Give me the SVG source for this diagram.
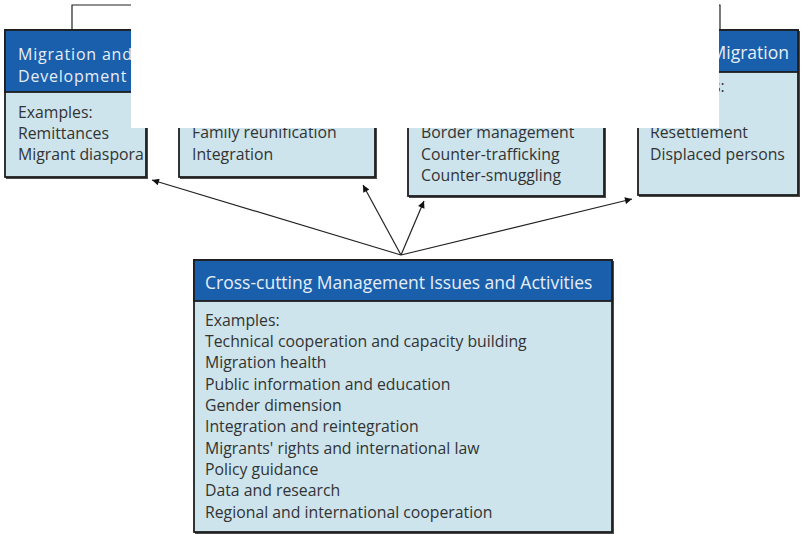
<svg xmlns="http://www.w3.org/2000/svg" width="801" height="534" viewBox="0 0 801 534">
  <defs>
    <marker id="arrow" viewBox="0 0 10 10" refX="10" refY="5" markerWidth="9" markerHeight="7" markerUnits="userSpaceOnUse" orient="auto">
      <path d="M0,0 L10,5 L0,10 z" fill="#111"/>
    </marker>
    <style>
      .shadow { fill: #4a4a4a; }
      .body { fill: #cde4ec; stroke: #1e1e1e; stroke-width: 1.8; }
      .head { fill: #1a5fab; stroke: #1e1e1e; stroke-width: 1.8; }
      .htxt { font-family: "Open Sans", "Noto Sans", sans-serif; font-size: 17.5px; fill: #e6eef7; }
      .htxt2 { font-family: "Open Sans", "Noto Sans", sans-serif; font-size: 16px; letter-spacing: 0.8px; fill: #e6eef7; }
      .btxt { font-family: "Open Sans", "Noto Sans", sans-serif; font-size: 15.8px; fill: #333; }
      .link { fill: none; stroke: #222; stroke-width: 1.2; }
      .arrow { fill: none; stroke: #222; stroke-width: 1.2; marker-end: url(#arrow); }
    </style>
  </defs>

  <g id="connectors">
    <polyline class="link" points="72,30 72,5 720,5 720,30"/>
    <line class="arrow" x1="401" y1="255" x2="152" y2="180"/>
    <line class="arrow" x1="401" y1="255" x2="363" y2="185"/>
    <line class="arrow" x1="401" y1="255" x2="424" y2="201"/>
    <line class="arrow" x1="401" y1="255" x2="632" y2="199"/>
  </g>

  <g id="migration-development">
    <rect class="shadow" x="6" y="31" width="142" height="148"/>
    <rect class="body" x="5" y="30" width="141" height="147"/>
    <rect class="head" x="5" y="30" width="141" height="62"/>
    <text class="htxt2" x="18" y="59.5">Migration and</text>
    <text class="htxt2" x="18" y="81.5">Development</text>
    <text class="btxt" x="18" y="118">Examples:</text>
    <text class="btxt" x="18" y="139">Remittances</text>
    <text class="btxt" x="18" y="160">Migrant diaspora</text>
  </g>

  <g id="facilitating">
    <rect class="shadow" x="180" y="31" width="197" height="148"/>
    <rect class="body" x="179" y="30" width="196" height="147"/>
    <text class="btxt" x="192" y="138">Family reunification</text>
    <text class="btxt" x="192" y="160">Integration</text>
  </g>

  <g id="regulating">
    <rect class="shadow" x="409" y="31" width="197" height="167"/>
    <rect class="body" x="408" y="30" width="196" height="166"/>
    <text class="btxt" x="421" y="138">Border management</text>
    <text class="btxt" x="421" y="160">Counter-trafficking</text>
    <text class="btxt" x="421" y="181">Counter-smuggling</text>
  </g>

  <g id="forced-migration">
    <rect class="shadow" x="639" y="31" width="161" height="166"/>
    <rect class="body" x="638" y="30" width="160" height="165"/>
    <rect class="head" x="638" y="30" width="160" height="42"/>
    <text class="htxt" x="789" y="59" text-anchor="end">Migration</text>
    <text class="btxt" x="650" y="92">Examples:</text>
    <text class="btxt" x="650" y="138">Resettlement</text>
    <text class="btxt" x="650" y="160">Displaced persons</text>
  </g>

  <!-- blank panel over the upper middle -->
  <rect x="131" y="0" width="588" height="128" fill="#fff"/>

  <g id="cross-cutting">
    <rect class="shadow" x="195" y="261" width="419" height="273"/>
    <rect class="body" x="194" y="260" width="418" height="272"/>
    <rect class="head" x="194" y="260" width="418" height="41"/>
    <text class="htxt" x="205" y="289">Cross-cutting Management Issues and Activities</text>
    <text class="btxt" x="205" y="326">Examples:</text>
    <text class="btxt" x="205" y="347">Technical cooperation and capacity building</text>
    <text class="btxt" x="205" y="368">Migration health</text>
    <text class="btxt" x="205" y="390">Public information and education</text>
    <text class="btxt" x="205" y="411">Gender dimension</text>
    <text class="btxt" x="205" y="432">Integration and reintegration</text>
    <text class="btxt" x="205" y="454">Migrants' rights and international law</text>
    <text class="btxt" x="205" y="475">Policy guidance</text>
    <text class="btxt" x="205" y="496">Data and research</text>
    <text class="btxt" x="205" y="518">Regional and international cooperation</text>
  </g>
</svg>
